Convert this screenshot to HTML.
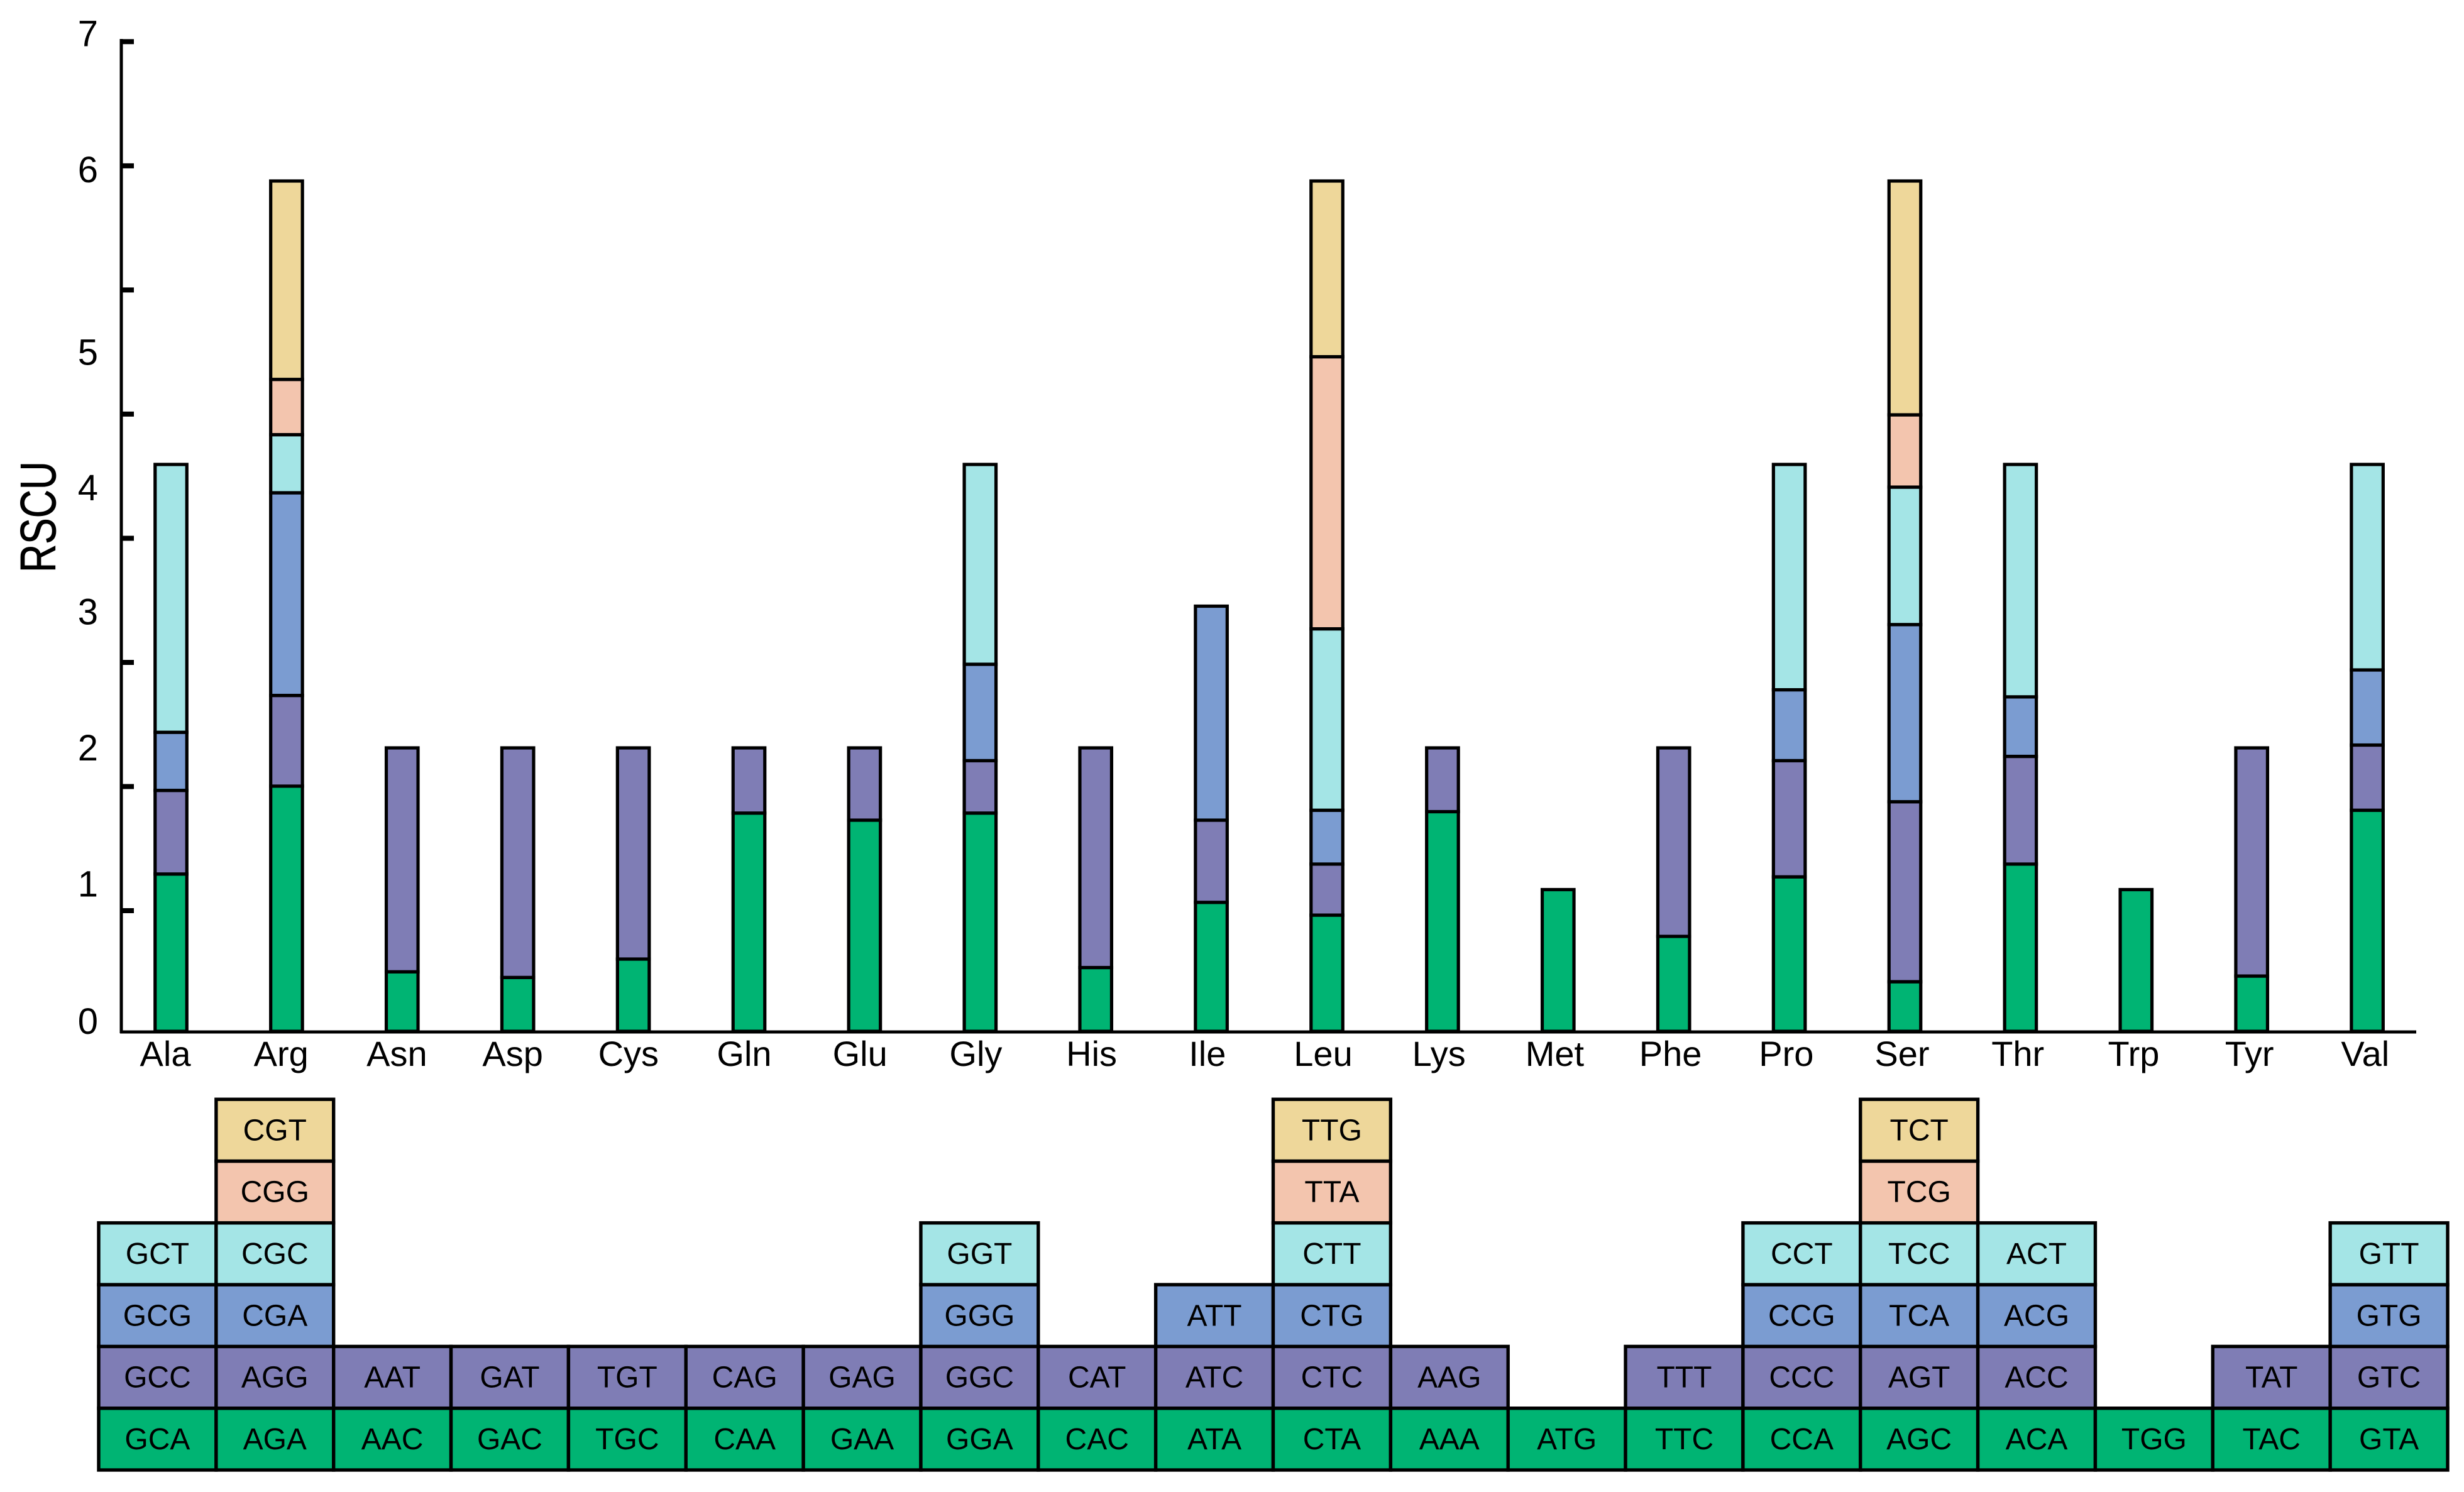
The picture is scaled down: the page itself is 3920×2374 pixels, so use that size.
<!DOCTYPE html>
<html lang="en">
<head>
<meta charset="utf-8">
<title>RSCU by amino acid</title>
<style>
html,body{margin:0;padding:0;background:#fff;width:3920px;height:2374px;overflow:hidden}
svg{display:block}
text{font-family:"Liberation Sans",Arial,sans-serif;fill:#000}
</style>
</head>
<body>
<svg id="chart" xmlns="http://www.w3.org/2000/svg" width="3920" height="2374" viewBox="0 0 3920 2374"></svg>
<script>
const aminoAcids = ["Ala","Arg","Asn","Asp","Cys","Gln","Glu","Gly","His","Ile","Leu","Lys","Met","Phe","Pro","Ser","Thr","Trp","Tyr","Val"];
const rscu = [
  [1.11,0.59,0.41,1.89],
  [1.73,0.64,1.43,0.41,0.39,1.40],
  [0.42,1.58],
  [0.38,1.62],
  [0.51,1.49],
  [1.54,0.46],
  [1.49,0.51],
  [1.54,0.37,0.68,1.41],
  [0.45,1.55],
  [0.91,0.58,1.51],
  [0.82,0.36,0.38,1.28,1.92,1.24],
  [1.55,0.45],
  [1.00],
  [0.67,1.33],
  [1.09,0.82,0.50,1.59],
  [0.35,1.27,1.25,0.97,0.51,1.65],
  [1.18,0.76,0.42,1.64],
  [1.00],
  [0.39,1.61],
  [1.56,0.46,0.53,1.45]
];
const codons = [
  ["GCA","GCC","GCG","GCT"],
  ["AGA","AGG","CGA","CGC","CGG","CGT"],
  ["AAC","AAT"],
  ["GAC","GAT"],
  ["TGC","TGT"],
  ["CAA","CAG"],
  ["GAA","GAG"],
  ["GGA","GGC","GGG","GGT"],
  ["CAC","CAT"],
  ["ATA","ATC","ATT"],
  ["CTA","CTC","CTG","CTT","TTA","TTG"],
  ["AAA","AAG"],
  ["ATG"],
  ["TTC","TTT"],
  ["CCA","CCC","CCG","CCT"],
  ["AGC","AGT","TCA","TCC","TCG","TCT"],
  ["ACA","ACC","ACG","ACT"],
  ["TGG"],
  ["TAC","TAT"],
  ["GTA","GTC","GTG","GTT"]
];
const tickLabels = ["0","1","2","3","4","5","6","7"];
const stackColors = ["#00B473","#7F7DB5","#7B9CD1","#A4E5E6","#F3C5AE","#EED79A"];

/* axis functions */
const Y_BASE = 1641, Y_UNIT = 225.5, BAR_X0 = 272, BAR_STEP = 183.9, BAR_W = 50.5;
const yScale = v => Y_BASE - v * Y_UNIT;
const barX = i => BAR_X0 + i * BAR_STEP;
const catLabelX = i => 263 + i * 184.2;
const TABLE_X0 = 157, TABLE_COL = 186.85, TABLE_BOTTOM = 2339, TABLE_ROW = 98.3;
const tableX = i => TABLE_X0 + i * TABLE_COL;
const tableY = r => TABLE_BOTTOM - (r + 1) * TABLE_ROW;
/* the printed axis: 8 even tick intervals, labels hand-placed in the source figure */
const TICK_STEP = 0.876, TICK_COUNT = 8, TICK_SHIFT = 5.6;
const labelLayoutShift = [4, 11, 20, 29, 57, 67, 2, 11];

const svg = document.getElementById('chart');
const NS = 'http://www.w3.org/2000/svg';
function make(tag, attrs, parent) {
  const el = document.createElementNS(NS, tag);
  for (const k in attrs) el.setAttribute(k, attrs[k]);
  (parent || svg).appendChild(el);
  return el;
}

const bg = make('rect', {x:0, y:0, width:3920, height:2374, fill:'#fff'});



/* bars */
const barsGroup = make('g', {});


rscu.forEach((stack, i) => {
  let cum = 0;
  stack.forEach((v, s) => {
    const top = yScale(cum + v), bottom = yScale(cum);
    const r = make('rect', {x: barX(i) - BAR_W / 2, y: top, width: BAR_W, height: bottom - top,
      fill: stackColors[s], stroke: '#000', 'stroke-width': 5.2}, barsGroup);
    
    
    cum += v;
  });
});

/* axes */
const yAxis = make('line', {x1:193, y1:62, x2:193, y2:Y_BASE + 3, stroke:'#000', 'stroke-width':5});


const xAxis = make('line', {x1:191, y1:Y_BASE + 1, x2:3844, y2:Y_BASE + 1, stroke:'#000', 'stroke-width':5});


for (let t = 1; t <= TICK_COUNT; t++) {
  const ty = yScale(t * TICK_STEP) + TICK_SHIFT;
  const tick = make('line', {x1:193, y1:ty, x2:213, y2:ty, stroke:'#000', 'stroke-width':8});
  
  
}
tickLabels.forEach((lab, i) => {
  const t = make('text', {x:156, y: yScale(+lab) + labelLayoutShift[i], 'text-anchor':'end', 'font-size':58});
  t.textContent = lab;
  
  
});
const yTitle = make('text', {transform:'translate(88 822.5) rotate(-90) scale(0.78 1)', 'text-anchor':'middle', 'font-size':80, stroke:'#000', 'stroke-width':0.8});
yTitle.textContent = 'RSCU';



aminoAcids.forEach((aa, i) => {
  const t = make('text', {x: catLabelX(i), y: 1696, 'text-anchor':'middle', 'font-size':56});
  t.textContent = aa;
  
  
});

/* codon table */
const tableGroup = make('g', {});


codons.forEach((col, i) => {
  col.forEach((codon, r) => {
    const cell = make('rect', {x: tableX(i), y: tableY(r), width: TABLE_COL, height: TABLE_ROW,
      fill: stackColors[r], stroke: '#000', 'stroke-width': 5.4}, tableGroup);
    
    
    const t = make('text', {x: tableX(i) + TABLE_COL / 2, y: tableY(r) + TABLE_ROW / 2 + 16,
      'text-anchor':'middle', 'font-size':48}, tableGroup);
    t.textContent = codon;
    
    
  });
});
</script>
</body>
</html>
